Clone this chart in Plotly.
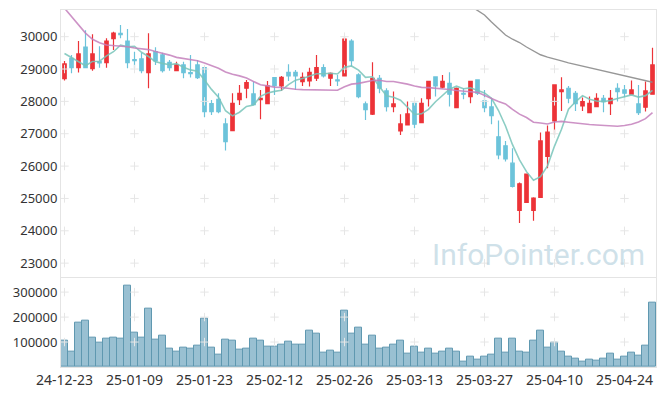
import plotly.graph_objects as go

dates = [
    "2024-12-23", "2024-12-24", "2024-12-26", "2024-12-27", "2024-12-30",
    "2025-01-02", "2025-01-03", "2025-01-06", "2025-01-07", "2025-01-08",
    "2025-01-09", "2025-01-10", "2025-01-13", "2025-01-14", "2025-01-15",
    "2025-01-16", "2025-01-17", "2025-01-20", "2025-01-21", "2025-01-22",
    "2025-01-23", "2025-01-24", "2025-01-31", "2025-02-03", "2025-02-04",
    "2025-02-05", "2025-02-06", "2025-02-07", "2025-02-10", "2025-02-11",
    "2025-02-12", "2025-02-13", "2025-02-14", "2025-02-17", "2025-02-18",
    "2025-02-19", "2025-02-20", "2025-02-21", "2025-02-24", "2025-02-25",
    "2025-02-26", "2025-02-27", "2025-02-28", "2025-03-04", "2025-03-05",
    "2025-03-06", "2025-03-07", "2025-03-10", "2025-03-11", "2025-03-12",
    "2025-03-13", "2025-03-14", "2025-03-17", "2025-03-18", "2025-03-19",
    "2025-03-20", "2025-03-21", "2025-03-24", "2025-03-25", "2025-03-26",
    "2025-03-27", "2025-03-28", "2025-03-31", "2025-04-01", "2025-04-02",
    "2025-04-03", "2025-04-04", "2025-04-07", "2025-04-08", "2025-04-09",
    "2025-04-10", "2025-04-11", "2025-04-14", "2025-04-15", "2025-04-16",
    "2025-04-17", "2025-04-18", "2025-04-21", "2025-04-22", "2025-04-23",
    "2025-04-24", "2025-04-25", "2025-04-28", "2025-04-29", "2025-04-30",
]

opens = [
    28703, 29331, 29043, 29681, 29012, 29228, 29197, 29938, 30103, 29866,
    29290, 29311, 28889, 29537, 29434, 29208, 28950, 29125, 28889, 29125,
    29043, 27932, 28065, 27304, 27098, 28055, 28405, 28230, 28055, 27932,
    28734, 28477, 28899, 28899, 28611, 28631, 28714, 29043, 28714, 28662,
    28786, 29866, 28817, 27921, 27603, 28714, 28323, 27839, 27088, 27273,
    27942, 27345, 28086, 28755, 28436, 28559, 27808, 28251, 28148, 28662,
    28014, 27829, 26903, 26625, 26090, 24629, 24876, 24629, 25030, 26296,
    27397, 28302, 28405, 28251, 27860, 27654, 27839, 28096, 27932, 28405,
    28354, 28220, 27921, 27818, 28220,
]
highs = [
    29249, 29434, 29866, 30195, 30072, 29702, 29949, 30154, 30360, 30237,
    29537, 29506, 30103, 29671, 29506, 29280, 29228, 29228, 29434, 29280,
    29064, 28045, 28251, 27479, 28251, 28508, 28662, 28611, 28354, 28631,
    28745, 28786, 29146, 28971, 28889, 29043, 29434, 29146, 28889, 28817,
    29979, 29918, 28868, 27994, 29208, 28817, 28405, 28302, 27603, 27994,
    27963, 28096, 28631, 28765, 28817, 28899, 28426, 28405, 28631, 28673,
    28354, 28096, 27407, 26779, 26553, 25493, 25771, 25040, 27037, 27253,
    28529, 28745, 28477, 28323, 28117, 28148, 28251, 28199, 28354, 28560,
    28508, 28642, 28508, 28611, 29660,
]
lows = [
    28642, 28868, 28889, 29022, 28950, 29043, 29043, 29588, 29949, 29022,
    29022, 28868, 28405, 29125, 28889, 28950, 28930, 28714, 28735, 28693,
    27510, 27582, 27633, 26481, 27088, 27891, 28096, 27891, 27448, 27932,
    28199, 28323, 28631, 28354, 28477, 28457, 28631, 28734, 28477, 28477,
    28765, 29074, 28096, 27428, 27582, 28251, 27685, 27664, 26964, 27273,
    27170, 27345, 27839, 28148, 28405, 27839, 27808, 28065, 27942, 28199,
    27664, 27294, 26213, 26141, 25339, 24238, 24876, 24310, 25030, 25936,
    26964, 27705, 27942, 27705, 27705, 27654, 27829, 27664, 27582, 27994,
    28014, 28220, 27582, 27685, 28220,
]
closes = [
    29156, 29043, 29465, 29043, 29465, 29187, 29866, 30113, 30062, 29197,
    29259, 28950, 29465, 29249, 28950, 29043, 29125, 28889, 28858, 28735,
    27685, 27685, 27685, 26759, 27942, 28251, 28580, 27901, 28096, 28477,
    28487, 28745, 28786, 28786, 28745, 28899, 29043, 28786, 28868, 28631,
    29928, 29259, 28148, 27747, 28714, 28405, 27839, 27921, 27304, 27613,
    27294, 27942, 28621, 28477, 28621, 28220, 28405, 28220, 28621, 28251,
    27808, 27561, 26347, 26224, 25370, 25452, 25750, 25009, 26779, 27047,
    28508, 28354, 28096, 27932, 27994, 27942, 28096, 27994, 28096, 28302,
    28251, 28354, 27654, 28323, 29125,
]
volumes = [
    106000, 62000, 176700, 184700, 116700, 96700, 112700, 116700, 112700, 326000,
    136700, 116700, 232700, 108700, 124700, 72700, 62000, 76700, 72700, 84700,
    192700, 79300, 48700, 111300, 104700, 68700, 72700, 112700, 104700, 80700,
    80700, 88700, 100700, 88700, 88700, 144700, 132700, 56700, 64700, 56700,
    224700, 132700, 156700, 88700, 124700, 72700, 76700, 88700, 104700, 52700,
    80700, 56700, 72700, 52700, 60700, 72700, 60700, 20700, 40700, 28700,
    40700, 48700, 112700, 56700, 112700, 60700, 56700, 106000, 144700, 76700,
    96700, 60700, 40700, 32700, 20700, 28700, 24700, 32700, 52700, 28700,
    40700, 56700, 44700, 84700, 256700,
]

# moving-average values read from the chart where history before the window is not shown
ma5_head = [29480, 29360, 29230, 29100]
ma20_head = [30880, 30620, 30380, 30110, 29920, 29810, 29740, 29720, 29720, 29690,
             29650, 29620, 29600, 29540, 29490, 29430, 29360, 29320, 29290]
ma120_start = 58
ma120_tail = [30950, 30800, 30670, 30450, 30240, 30050, 29920, 29820, 29680, 29550,
              29440, 29370, 29300, 29250, 29190, 29140, 29090, 29040, 28990, 28950,
              28890, 28840, 28790, 28740, 28690, 28640, 28590]

price_ticks = [23000, 24000, 25000, 26000, 27000, 28000, 29000, 30000]
vol_ticks = [100000, 200000, 300000]
tick_dates = dates[::10]
tick_labels = [d[2:] for d in tick_dates]


def moving_average(values, n, head):
    out = list(head)
    for i in range(len(head), len(values)):
        window = values[i - n + 1:i + 1]
        out.append(sum(window) / n)
    return out


ma5 = moving_average(closes, 5, ma5_head)
ma20 = moving_average(closes, 20, ma20_head)
ma120_x = dates[ma120_start:]

RED = "#ec3338"
BLUE = "#6cc3da"
GRID = "#e6e6e6"
FONT = "Noto Sans"

fig = go.Figure()

# grid crosses
gx, gy = [], []
for d in tick_dates:
    for v in price_ticks:
        gx.append(d)
        gy.append(v)
fig.add_trace(go.Scatter(x=gx, y=gy, mode="markers", hoverinfo="skip",
                         marker=dict(symbol="cross-thin", size=6,
                                     line=dict(color=GRID, width=1)),
                         xaxis="x", yaxis="y", showlegend=False))
vx, vy = [], []
for d in tick_dates:
    for v in vol_ticks:
        vx.append(d)
        vy.append(v)
fig.add_trace(go.Scatter(x=vx, y=vy, mode="markers", hoverinfo="skip",
                         marker=dict(symbol="cross-thin", size=6,
                                     line=dict(color=GRID, width=1)),
                         xaxis="x2", yaxis="y2", showlegend=False))

fig.add_trace(go.Candlestick(
    x=dates, open=opens, high=highs, low=lows, close=closes,
    increasing=dict(line=dict(color=RED, width=1.2), fillcolor=RED),
    decreasing=dict(line=dict(color=BLUE, width=1.2), fillcolor=BLUE),
    whiskerwidth=0, xaxis="x", yaxis="y", showlegend=False))

fig.add_trace(go.Scatter(x=dates, y=ma5, mode="lines",
                         line=dict(color="rgba(120,196,186,0.85)", width=1.6),
                         xaxis="x", yaxis="y", showlegend=False))
fig.add_trace(go.Scatter(x=dates, y=ma20, mode="lines",
                         line=dict(color="rgba(196,128,188,0.85)", width=1.6),
                         xaxis="x", yaxis="y", showlegend=False))
fig.add_trace(go.Scatter(x=ma120_x, y=ma120_tail, mode="lines",
                         line=dict(color="rgba(140,140,140,0.9)", width=1.4),
                         xaxis="x", yaxis="y", showlegend=False))

fig.add_trace(go.Bar(x=dates, y=volumes,
                     marker=dict(color="rgba(130,178,200,0.82)",
                                 line=dict(color="#5f98b0", width=1)),
                     xaxis="x2", yaxis="y2", showlegend=False))

axis_line = "#e4e4e4"
# the page body adds an 8px margin, so the figure is sized to fit the window
fig.update_layout(
    width=657, height=388,
    margin=dict(l=53, r=9, t=2, b=28.5),
    paper_bgcolor="white", plot_bgcolor="white",
    bargap=0, boxgap=0.3,
    font=dict(family=FONT, size=13, color="#333333"),
    xaxis=dict(type="category", categoryorder="array", categoryarray=dates,
               range=[-0.5, len(dates) - 0.5], automargin=False,
               domain=[0, 1], anchor="y", showticklabels=False,
               showgrid=False, zeroline=False, rangeslider=dict(visible=False),
               showline=True, linecolor=axis_line, mirror=True, ticks=""),
    yaxis=dict(domain=[0.2531, 1], range=[22583, 30824], automargin=False,
               tickvals=price_ticks, ticktext=[str(v) for v in price_ticks],
               showgrid=False, zeroline=False, showline=True,
               linecolor=axis_line, mirror=True, ticks="",
               tickfont=dict(size=13, color="#333333")),
    xaxis2=dict(type="category", categoryorder="array", categoryarray=dates,
                range=[-0.5, len(dates) - 0.5], automargin=False,
                domain=[0, 1], anchor="y2",
                tickmode="array", tickvals=tick_dates, ticktext=tick_labels,
                showgrid=False, zeroline=False, showline=True,
                linecolor=axis_line, mirror=True, ticks="",
                tickangle=0,
                tickfont=dict(size=14, color="#333333")),
    yaxis2=dict(domain=[0, 0.2503], range=[0, 358000], automargin=False,
                tickvals=vol_ticks, ticktext=[str(v) for v in vol_ticks],
                showgrid=False, zeroline=False, showline=True,
                linecolor=axis_line, mirror=True, ticks="",
                tickfont=dict(size=13, color="#333333")),
    annotations=[dict(text="InfoPointer.com", xref="paper", yref="paper",
                      x=0.803, y=0.315, xanchor="center", yanchor="middle",
                      showarrow=False,
                      font=dict(family="Roboto", size=30, color="rgba(160,195,212,0.5)"))],
)

fig.write_html("out.html")
